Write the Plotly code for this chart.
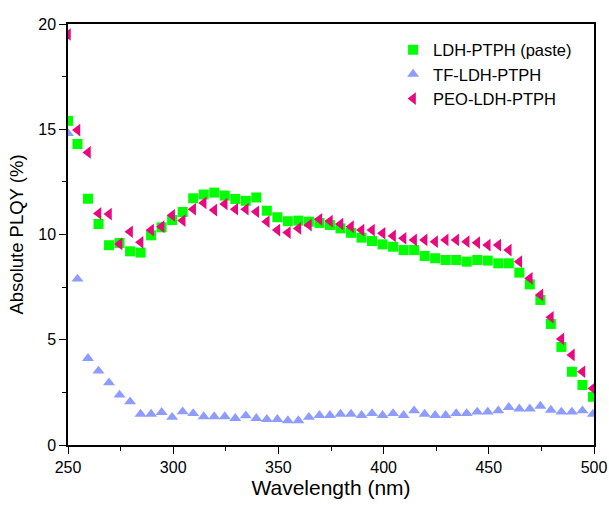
import plotly.graph_objects as go

# Wavelength grid (nm) shared by the three series
wavelength = [250, 254.5, 259.5, 264.5, 269.5, 274.5, 279.5, 284.5, 289.5, 294.5,
              299.5, 304.5, 309.5, 314.5, 319.5, 324.5, 329.5, 334.5, 339.5, 344.5,
              349.5, 354.5, 359.5, 364.5, 369.5, 374.5, 379.5, 384.5, 389.5, 394.5,
              399.5, 404.5, 409.5, 414.5, 419.5, 424.5, 429.5, 434.5, 439.5, 444.5,
              449.5, 454.5, 459.5, 464.5, 469.5, 474.5, 479.5, 484.5, 489.5, 494.5,
              499.5]

# Absolute PLQY (%)
ldh_paste = [15.4, 14.3, 11.7, 10.5, 9.49, 9.6, 9.2, 9.14, 9.96, 10.34,
             10.69, 11.07, 11.72, 11.9, 11.99, 11.85, 11.69, 11.6, 11.76, 11.13,
             10.82, 10.63, 10.66, 10.61, 10.55, 10.45, 10.29, 10.08, 9.85, 9.69,
             9.53, 9.42, 9.26, 9.26, 8.98, 8.87, 8.79, 8.79, 8.71, 8.79,
             8.76, 8.63, 8.63, 8.19, 7.63, 6.89, 5.75, 4.66, 3.48, 2.85,
             2.29]

tf_ldh = [14.8, 7.89, 4.12, 3.52, 2.96, 2.38, 2.06, 1.47, 1.47, 1.55,
          1.32, 1.58, 1.5, 1.35, 1.35, 1.35, 1.27, 1.39, 1.27, 1.22,
          1.22, 1.16, 1.16, 1.32, 1.41, 1.41, 1.47, 1.47, 1.41, 1.5,
          1.41, 1.5, 1.41, 1.63, 1.47, 1.41, 1.41, 1.5, 1.5, 1.57,
          1.57, 1.63, 1.79, 1.72, 1.72, 1.85, 1.66, 1.57, 1.57, 1.63,
          1.47]

peo_ldh = [19.5, 14.96, 13.9, 11.0, 10.97, 9.55, 10.13, 9.63, 10.21, 10.37,
           10.91, 10.66, 11.2, 11.5, 11.16, 11.45, 11.2, 11.2, 11.08, 10.61,
           10.21, 10.09, 10.29, 10.45, 10.72, 10.64, 10.5, 10.37, 10.21, 10.21,
           10.06, 9.93, 9.82, 9.74, 9.74, 9.66, 9.74, 9.74, 9.66, 9.61,
           9.5, 9.5, 9.26, 8.71, 7.92, 7.13, 6.07, 5.04, 4.28, 3.48,
           2.69]

series = [
    ("LDH-PTPH (paste)", ldh_paste, "square", "#00FF00", 10),
    ("TF-LDH-PTPH", tf_ldh, "triangle-up", "#8E9CFF", 10.5),
    ("PEO-LDH-PTPH", peo_ldh, "triangle-left", "#E8097F", 11),
]

FONT = "Liberation Sans, Arial"

fig = go.Figure()
for name, vals, symbol, color, size in series:
    fig.add_trace(go.Scatter(
        x=wavelength, y=vals, mode="markers", name=name, cliponaxis=True,
        marker=dict(symbol=symbol, color=color, size=size, line=dict(width=0)),
    ))

axis_style = dict(
    showline=True, linecolor="black", linewidth=1.5, mirror=True,
    showgrid=False, zeroline=False, automargin=False,
    ticks="outside", tickcolor="black", tickwidth=1.2, ticklen=7,
    tickfont=dict(family=FONT, size=16, color="black"),
)

fig.update_xaxes(
    range=[250, 500], tick0=250, dtick=50,
    minor=dict(ticks="outside", dtick=25, ticklen=4, tickcolor="black", tickwidth=1.2),
    title=dict(text="Wavelength (nm)", font=dict(family=FONT, size=21, color="black"),
               standoff=5),
    **axis_style,
)
fig.update_yaxes(
    range=[0, 20], tick0=0, dtick=5,
    minor=dict(ticks="outside", dtick=2.5, ticklen=4, tickcolor="black", tickwidth=1.2),
    title=dict(text="Absolute PLQY (%)", font=dict(family=FONT, size=18.5, color="black"),
               standoff=10),
    **axis_style,
)

fig.update_layout(
    width=609, height=505,
    margin=dict(l=68, r=15, t=24, b=60),
    plot_bgcolor="white", paper_bgcolor="white",
    legend=dict(x=0.618, y=0.98, xanchor="left", yanchor="top",
                font=dict(family=FONT, size=16.5, color="black"),
                bgcolor="rgba(0,0,0,0)", itemwidth=30),
)

# drop the default 8px body margin so the figure sits flush in the window
fig.write_html("out.html", config={"displayModeBar": False},
               post_script="document.body.style.margin='0';")
